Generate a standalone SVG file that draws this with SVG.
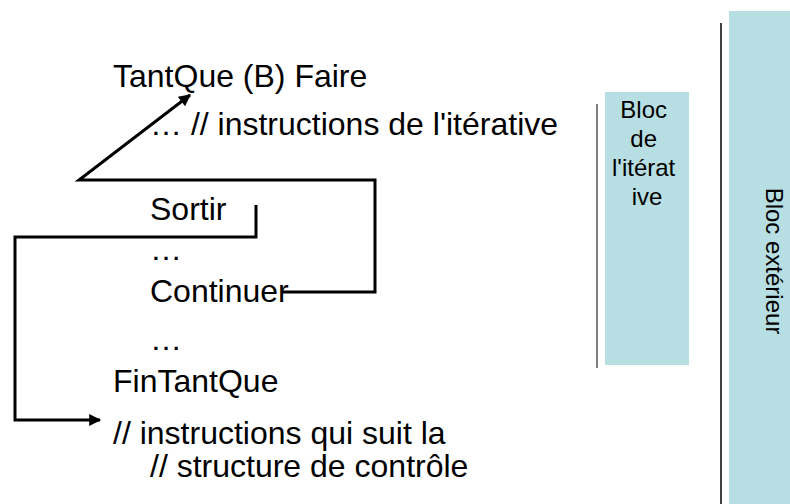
<svg xmlns="http://www.w3.org/2000/svg" width="790" height="504" viewBox="0 0 790 504">
  <style>
    .code { font-family: "Liberation Sans", Arial, sans-serif; font-size: 32px; fill: #000; }
    .blk  { font-family: "Liberation Sans", Arial, sans-serif; font-size: 24px; fill: #000; }
    .box  { fill: #B7DEE2; }
    .flow { fill: none; stroke: #000; stroke-width: 3; stroke-linejoin: miter; }
  </style>
  <defs>
    <marker id="arrow" viewBox="0 0 10 10" refX="9" refY="5" markerWidth="4.5" markerHeight="4" orient="auto" markerUnits="strokeWidth">
      <path d="M0,0 L10,5 L0,10 z" fill="#000"/>
    </marker>
  </defs>

  <!-- pseudo-code lines -->
  <g id="code">
    <text class="code" x="113" y="87">TantQue (B) Faire</text>
    <text class="code" x="150" y="135">… // instructions de l'itérative</text>
    <text class="code" x="150" y="220">Sortir</text>
    <text class="code" x="150" y="260">…</text>
    <text class="code" x="150" y="302">Continuer</text>
    <text class="code" x="150" y="350">…</text>
    <text class="code" x="113" y="392">FinTantQue</text>
    <text class="code" x="113" y="444">// instructions qui suit la</text>
    <text class="code" x="150" y="477">// structure de contrôle</text>
  </g>

  <!-- inner block: loop body -->
  <g id="bloc-iterative">
    <line x1="597" y1="104" x2="597" y2="368" stroke="#808080" stroke-width="2"/>
    <rect class="box" x="605" y="92" width="84" height="273"/>
    <text class="blk" text-anchor="middle">
      <tspan x="647" y="118">Bloc</tspan>
      <tspan x="647" y="147">de</tspan>
      <tspan x="647" y="176">l'itérat</tspan>
      <tspan x="647" y="205">ive</tspan>
    </text>
  </g>

  <!-- outer block -->
  <g id="bloc-exterieur">
    <line x1="721" y1="23" x2="721" y2="504" stroke="#404040" stroke-width="2"/>
    <rect class="box" x="729" y="11" width="61" height="493"/>
    <text class="blk" text-anchor="middle" transform="translate(766,261) rotate(90)">Bloc extérieur</text>
  </g>

  <!-- control-flow connectors -->
  <g id="connectors">
    <!-- Continuer: back to loop head -->
    <path class="flow" d="M283,292 L375,292 L375,180 L79,180 L190,95" marker-end="url(#arrow)"/>
    <!-- Sortir: jump past the loop -->
    <path class="flow" d="M256,205 L256,237 L15,237 L15,420 L100,420" marker-end="url(#arrow)"/>
  </g>
</svg>
